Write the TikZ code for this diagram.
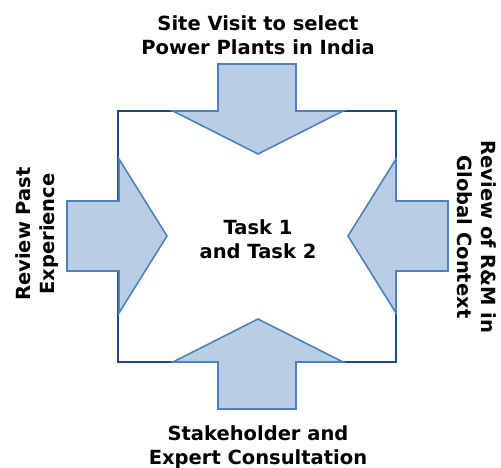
\documentclass[tikz,border=0pt]{standalone}
\usepackage{fontspec}
\setmainfont{DejaVu Sans}
\usepackage{tikz}
\usetikzlibrary{positioning}
\definecolor{arrowfill}{HTML}{B9CDE5}
\definecolor{arrowline}{HTML}{4F81BD}
\definecolor{framline}{HTML}{1F497D}
\tikzset{
  blockarrow/.style={draw=arrowline, fill=arrowfill, line width=1.6pt, line join=miter},
  frambox/.style={draw=framline, line width=1.6pt},
  steplabel/.style={font=\fontsize{19.5}{23.5}\selectfont\bfseries, align=center, inner sep=0pt},
}

\begin{document}
\begin{tikzpicture}[x=1pt, y=-1pt]
  \useasboundingbox (0,0) rectangle (501,468);
  % frame round the tasks
  \draw[frambox] (118,111) rectangle (396,362);

  % four arrows pointing inwards
  \draw[blockarrow] (218,64) -- (296,64) -- (296,111) -- (343,111) -- (258,154)
    -- (173,111) -- (218,111) -- cycle;
  \draw[blockarrow] (218,409) -- (296,409) -- (296,362) -- (343,362) -- (258,319)
    -- (173,362) -- (218,362) -- cycle;
  \draw[blockarrow] (67,201) -- (67,271) -- (119,271) -- (119,313) -- (167,236)
    -- (119,159) -- (119,201) -- cycle;
  \draw[blockarrow] (448,201) -- (448,271) -- (396,271) -- (396,313) -- (348,236)
    -- (396,159) -- (396,201) -- cycle;

  % labels
  \node[steplabel] (task) at (258,239) {Task 1\\and Task 2};
  \node[steplabel] (site) at (258,35) {Site Visit to select\\Power Plants in India};
  \node[steplabel] (stake) at (258,447) {Stakeholder and\\Expert Consultation};
  \node[steplabel, rotate=90] (past) at (37,234) {Review Past\\Experience};
  \node[steplabel, rotate=-90] (global) at (477,237) {Review of R\&M in\\Global Context};
\end{tikzpicture}
\end{document}
